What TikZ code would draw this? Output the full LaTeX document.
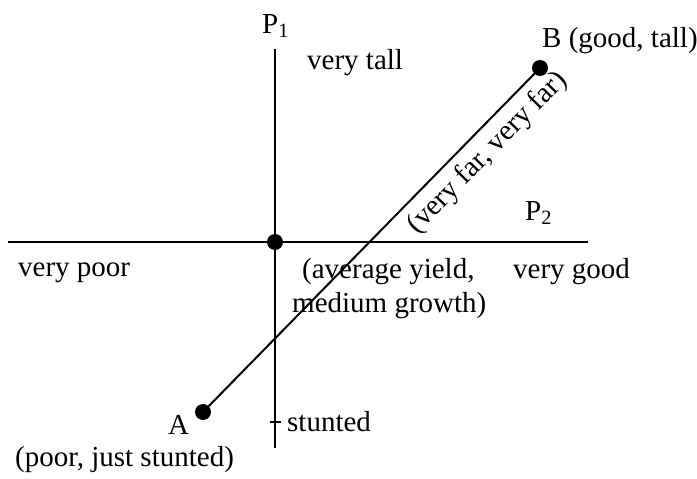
\documentclass[tikz,border=0pt]{standalone}
\usepackage{fontspec}
\setmainfont{Liberation Serif}
\begin{document}
\begin{tikzpicture}[x=1pt,y=-1pt,
  axis/.style={line width=2pt},
  dot/.style={circle,fill=black,inner sep=0pt,minimum size=16pt},
  lbl/.style={anchor=base west,inner sep=0pt,font=\fontsize{29}{34}\selectfont}]
\useasboundingbox (0,0) rectangle (697,479);
% axes
\coordinate (ytop) at (275,49);
\coordinate (ybot) at (275,448);
\coordinate (xl) at (8,242);
\coordinate (xr) at (588,242);
\coordinate (tl) at (270,422);
\coordinate (tr) at (281,422);
\draw[axis] (ytop) -- (ybot);
\draw[axis] (xl) -- (xr);
\draw[line width=1.4pt] (tl) -- (tr);
% points
\node[dot] (O) at (275,242) {};
\node[dot] (A) at (203,412) {};
\node[dot] (B) at (540,68) {};
\draw[line width=2pt] (A) -- (B);
% labels
\node[lbl] (p1) at (262,33) {P\textsubscript{1}};
\node[lbl] (tall) at (307,69) {very tall};
\node[lbl] (blab) at (542,47) {B (good, tall)};
\node[inner sep=0pt,font=\fontsize{29}{34}\selectfont,rotate=45.6] (far) at (488,153) {(very far, very far)};
\node[lbl] (p2) at (525,220) {P\textsubscript{2}};
\node[lbl] (poor) at (18,276) {very poor};
\node[lbl] (avg1) at (302,278) {(average yield,};
\node[lbl] (avg2) at (292,312) {medium growth)};
\node[lbl] (good) at (513,278) {very good};
\node[lbl] (alab) at (168,434) {A};
\node[lbl] (stunt) at (287,431) {stunted};
\node[lbl] (alab2) at (15,466) {(poor, just stunted)};
\end{tikzpicture}
\end{document}
